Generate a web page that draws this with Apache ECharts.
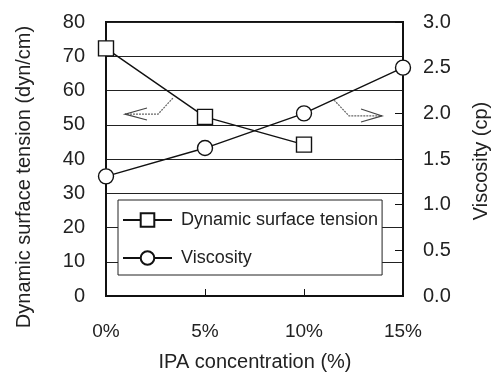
<!DOCTYPE html>
<html>
<head>
<meta charset="utf-8">
<script src="https://cdn.jsdelivr.net/npm/echarts@6/dist/echarts.min.js"></script>
<style>
  html, body { margin: 0; padding: 0; background: #fff; }
  #chart { width: 492px; height: 376px; }
</style>
</head>
<body>
<div id="chart"></div>
<script>
// 数据
var concentration = [0, 5, 10, 15];          // IPA concentration (%)
var surfaceTension = [72.3, 52.3, 44.2];     // dyn/cm at 0, 5, 10 %
var viscosity = [1.31, 1.62, 2.0, 2.5];      // cp at 0, 5, 10, 15 %
var seriesNames = ['Dynamic surface tension', 'Viscosity'];

// arrow annotations, in [x %, left-axis value]
var leftArrowShaft = [[3.38, 57.8], [2.63, 53.1], [0.96, 53.1]];
var leftArrowHead = [[2.07, 54.9], [0.96, 53.1], [2.07, 51.4]];
var rightArrowShaft = [[11.52, 57.2], [12.27, 52.6], [13.94, 52.6]];
var rightArrowHead = [[12.88, 54.6], [13.94, 52.6], [12.88, 50.8]];

var font = 'Liberation Sans, Arial, sans-serif';

function pairs(xs, ys){
	var out = [];
	for (var i = 0; i < ys.length; i++) out.push([xs[i], ys[i]]);
	return out;
}

var chart = echarts.init(document.getElementById('chart'));

var option = {
	animation: false,
	grid: {
		left: 106, right: 89, top: 22, bottom: 80,
		show: true, borderColor: '#111', borderWidth: 2
	},
	legend: {
		data: seriesNames,
		orient: 'vertical',
		left: 118, top: 200,
		itemWidth: 49, itemHeight: 17, itemGap: 20,
		padding: [11, 4, 8, 4],
		backgroundColor: '#fff',
		borderColor: '#222', borderWidth: 1,
		textStyle: { fontFamily: font, fontSize: 18, color: '#222', padding: [0, 0, 0, 4] }
	},
	xAxis: {
		type: 'value', min: 0, max: 15, interval: 5,
		axisLine: { lineStyle: { color: '#111', width: 2 } },
		axisTick: { inside: true, length: 7, lineStyle: { color: '#111' } },
		splitLine: { show: false },
		axisLabel: { formatter: '{value}%', margin: 26, fontFamily: font, fontSize: 19, color: '#222' }
	},
	yAxis: [{
		type: 'value', min: 0, max: 80, interval: 10,
		axisLine: { show: true, lineStyle: { color: '#111', width: 2 } },
		axisTick: { show: false },
		splitLine: { show: true, lineStyle: { color: '#222', width: 1.2 } },
		axisLabel: { margin: 21, fontFamily: font, fontSize: 20, color: '#222' }
	}, {
		type: 'value', min: 0, max: 3, interval: 0.5, position: 'right',
		axisLine: { show: true, lineStyle: { color: '#111', width: 2 } },
		axisTick: { inside: true, length: 8, lineStyle: { color: '#111' } },
		splitLine: { show: false },
		axisLabel: { margin: 20, fontFamily: font, fontSize: 20, color: '#222',
			formatter: function(v){ return v.toFixed(1); } }
	}],
	series: [{
		name: seriesNames[0], type: 'line', yAxisIndex: 0,
		data: pairs(concentration, surfaceTension),
		symbol: 'rect', symbolSize: 15,
		lineStyle: { color: '#111', width: 1.4 },
		itemStyle: { color: '#fff', borderColor: '#111', borderWidth: 1.4 },
		z: 5
	}, {
		name: seriesNames[1], type: 'line', yAxisIndex: 1,
		data: pairs(concentration, viscosity),
		symbol: 'circle', symbolSize: 15,
		lineStyle: { color: '#111', width: 1.4 },
		itemStyle: { color: '#fff', borderColor: '#111', borderWidth: 1.4 },
		z: 5
	}]
};

chart.setOption(option);

// 标注与轴标题
function toPx(list){
	return list.map(function(p){
		return chart.convertToPixel({ xAxisIndex: 0, yAxisIndex: 0 }, p);
	});
}

function polyline(list, color, dash){
	return {
		type: 'polyline',
		shape: { points: toPx(list) },
		style: { stroke: color, lineWidth: 1.2, fill: null, lineDash: dash || null },
		z: 10
	};
}

chart.setOption({
	graphic: [
		polyline(leftArrowShaft, '#666', [2, 1]),
		polyline(leftArrowHead, '#444'),
		polyline(rightArrowShaft, '#666', [2, 1]),
		polyline(rightArrowHead, '#444'),
		{
			type: 'text', x: 24, y: 177, rotation: Math.PI / 2,
			style: { text: 'Dynamic surface tension (dyn/cm)', fontFamily: font, fontSize: 20,
				fill: '#222', align: 'center', verticalAlign: 'middle' }
		}, {
			type: 'text', x: 481, y: 161, rotation: Math.PI / 2,
			style: { text: 'Viscosity (cp)', fontFamily: font, fontSize: 20,
				fill: '#222', align: 'center', verticalAlign: 'middle' }
		}, {
			type: 'text', x: 255, y: 362,
			style: { text: 'IPA concentration (%)', fontFamily: font, fontSize: 20,
				fill: '#222', align: 'center', verticalAlign: 'middle' }
		}
	]
});
</script>
</body>
</html>
